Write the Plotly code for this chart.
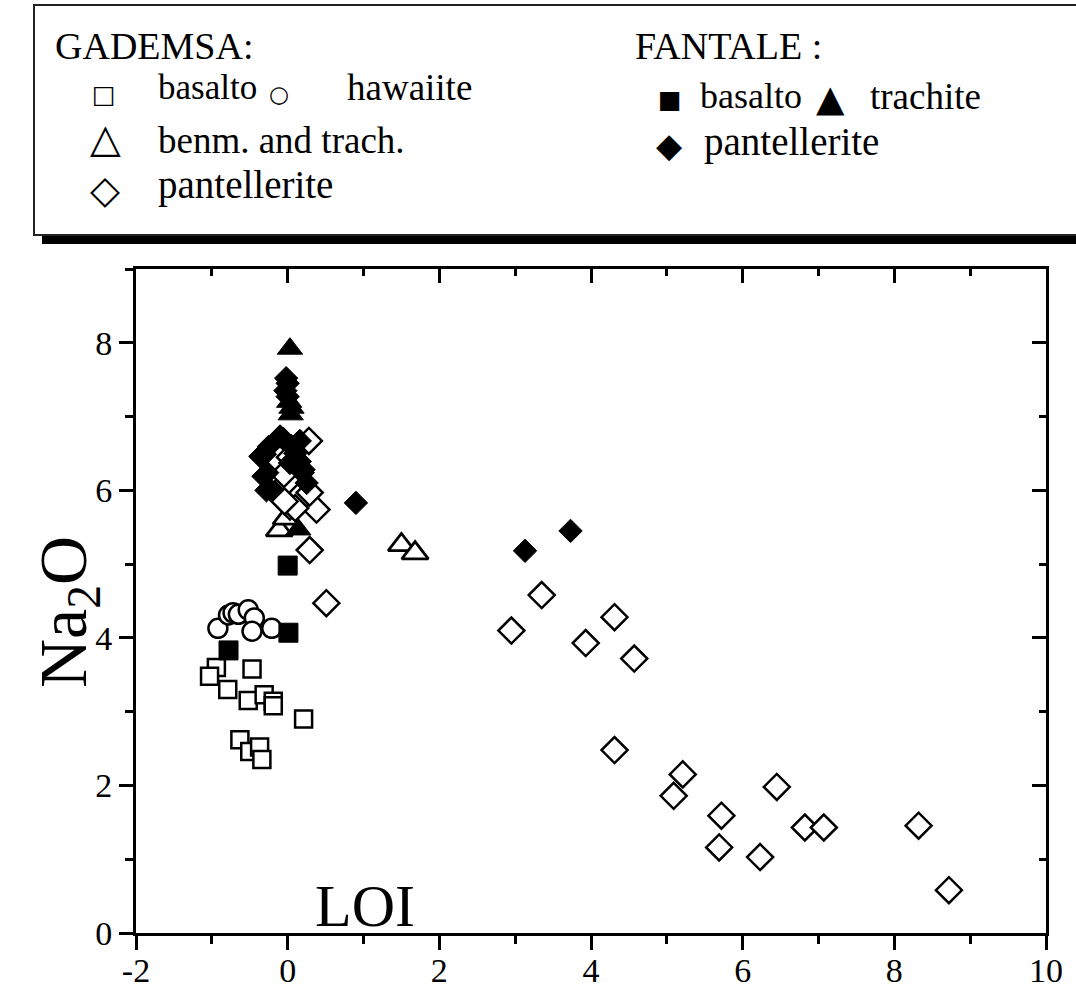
import plotly.graph_objects as go

# ---------------- data (LOI vs Na2O) ----------------
gad_basalto_x = [-0.94, -1.03, -0.47, -0.79, -0.52, -0.31, -0.19, -0.19, 0.21, -0.63, -0.50, -0.37, -0.34]
gad_basalto_y = [3.60, 3.48, 3.58, 3.30, 3.15, 3.23, 3.14, 3.08, 2.90, 2.62, 2.46, 2.52, 2.35]

gad_hawaiite_x = [-0.92, -0.78, -0.72, -0.65, -0.52, -0.44, -0.47, -0.21]
gad_hawaiite_y = [4.13, 4.31, 4.34, 4.32, 4.38, 4.27, 4.09, 4.13]

gad_benm_x = [-0.11, -0.02, 1.50, 1.68]
gad_benm_y = [5.46, 5.62, 5.26, 5.15]

gad_pant_x = [0.28, 0.03, 0.00, -0.05, 0.03, 0.38, 0.29, 0.10, -0.04, 0.29, 0.51,
              2.95, 3.35, 4.31, 3.93, 4.57, 4.31, 5.21, 5.09, 5.72, 5.69, 6.23, 6.45, 6.82, 7.07, 8.32, 8.72]
gad_pant_y = [6.67, 6.45, 6.12, 6.22, 5.78, 5.74, 5.97, 5.76, 5.85, 5.19, 4.47,
              4.10, 4.58, 4.28, 3.93, 3.72, 2.48, 2.15, 1.86, 1.59, 1.16, 1.03, 1.98, 1.43, 1.43, 1.455, 0.58]

fan_basalto_x = [0.00, 0.01, -0.78]
fan_basalto_y = [4.98, 4.07, 3.83]

fan_trach_x = [0.03, 0.02, 0.05, 0.04, 0.14]
fan_trach_y = [7.92, 7.20, 7.12, 7.03, 5.47]

fan_pant_x = [-0.02, 0.00, -0.03, 0.00, -0.10, -0.06, -0.25, -0.36, -0.30, -0.32, -0.27, -0.28, -0.23,
              0.16, 0.16, 0.20, 0.03, 0.21, 0.25, 0.10, 0.05, 0.90, 3.13, 3.73]
fan_pant_y = [7.52, 7.45, 7.35, 7.27, 6.73, 6.70, 6.59, 6.46, 6.49, 6.19, 6.24, 6.00, 6.01,
              6.67, 6.39, 6.24, 6.37, 6.28, 6.10, 6.50, 6.60, 5.83, 5.18, 5.45]

x_tickvals = [-2, 0, 2, 4, 6, 8, 10]
x_ticktext = ["-2", "0", "2", "4", "6", "8", "10"]
y_tickvals = [0, 2, 4, 6, 8]
y_ticktext = ["0", "2", "4", "6", "8"]

# ---------------- layout geometry ----------------
W, H = 1076, 991
L, R, T, B = 136, 30, 269, 58
PW, PH = W - L - R, H - T - B


def px(xp):
    return (xp - L) / PW


def py(yp):
    return (H - B - yp) / PH


SERIF = "Liberation Serif"
SYM = "DejaVu Sans"

fig = go.Figure()


def add(x, y, symbol, size, fill, lw):
    fig.add_trace(go.Scatter(
        x=x, y=y, mode="markers", showlegend=False, cliponaxis=False,
        marker=dict(symbol=symbol, size=size, color=fill,
                    line=dict(color="black", width=lw))))


add(gad_basalto_x, gad_basalto_y, "square", 17, "white", 2.5)
add(gad_hawaiite_x, gad_hawaiite_y, "circle", 19, "white", 2.5)
add(gad_benm_x, gad_benm_y, "triangle-up", 23, "white", 2.8)
add(gad_pant_x, gad_pant_y, "diamond", 20, "white", 2.5)
add(fan_basalto_x, fan_basalto_y, "square", 19, "black", 1)
add(fan_trach_x, fan_trach_y, "triangle-up", 22, "black", 1)
add(fan_pant_x, fan_pant_y, "diamond", 18, "black", 1)

# invisible helpers so the mirrored (inside-tick) axes are drawn
fig.add_trace(go.Scatter(x=[None], y=[None], xaxis="x2", yaxis="y", showlegend=False, hoverinfo="skip"))
fig.add_trace(go.Scatter(x=[None], y=[None], xaxis="x", yaxis="y2", showlegend=False, hoverinfo="skip"))

TF = 34
fig.update_layout(
    width=W, height=H,
    margin=dict(l=L, r=R, t=T, b=B, autoexpand=False),
    paper_bgcolor="white", plot_bgcolor="white",
    font=dict(family=SERIF, size=TF, color="black"),
    showlegend=False,
)
common = dict(showgrid=False, zeroline=False, automargin=False, tickcolor="black", tickwidth=3)
fig.update_layout(
    xaxis=dict(range=[-2, 10], tickmode="array", tickvals=x_tickvals, ticktext=x_ticktext,
               ticks="outside", ticklen=14, ticklabelstandoff=-9,
               minor=dict(dtick=1, tick0=0, ticks="outside", ticklen=8, tickwidth=3, tickcolor="black"),
               showline=True, linewidth=3, linecolor="black", mirror=True, **common),
    yaxis=dict(range=[0, 9], tickmode="array", tickvals=y_tickvals, ticktext=y_ticktext,
               ticks="outside", ticklen=14,
               minor=dict(dtick=1, tick0=0, ticks="outside", ticklen=8, tickwidth=3, tickcolor="black"),
               showline=True, linewidth=3, linecolor="black", mirror=True, **common),
    xaxis2=dict(range=[-2, 10], overlaying="x", side="top", anchor="y",
                tickmode="array", tickvals=x_tickvals, showticklabels=False,
                ticks="inside", ticklen=14,
                minor=dict(dtick=1, tick0=0, ticks="inside", ticklen=7, tickwidth=3, tickcolor="black"),
                showline=False, **common),
    yaxis2=dict(range=[0, 9], overlaying="y", side="right", anchor="x",
                tickmode="array", tickvals=y_tickvals, showticklabels=False,
                ticks="inside", ticklen=14,
                minor=dict(dtick=1, tick0=0, ticks="inside", ticklen=7, tickwidth=3, tickcolor="black"),
                showline=False, **common),
)
fig.update_xaxes(tickfont=dict(family=SERIF, size=TF, color="black"))
fig.update_yaxes(tickfont=dict(family=SERIF, size=TF, color="black"))

# ---------------- legend box (drawn) ----------------
shapes = [
    dict(type="rect", xref="paper", yref="paper", x0=px(42), x1=px(1110), y0=py(244), y1=py(234),
         fillcolor="black", line=dict(width=0), layer="above"),
    dict(type="rect", xref="paper", yref="paper", x0=px(34), x1=px(1100), y0=py(235), y1=py(5),
         fillcolor="rgba(0,0,0,0)", line=dict(color="#222", width=2), layer="above"),
]
fig.update_layout(shapes=shapes)

ann = []


def text(s, x, y, size, family=SERIF, xanchor="left"):
    ann.append(dict(text=s, x=px(x), y=py(y), xref="paper", yref="paper",
                    xanchor=xanchor, yanchor="middle", showarrow=False,
                    font=dict(family=family, size=size, color="black")))


text("GADEMSA:", 53, 46, 38)
text("\u25A1", 104, 94, 25, SYM, "center")
text("basalto", 156, 88, 35)
text("\u25CB", 279, 94, 23, SYM, "center")
text("hawaiite", 345, 88, 37)
text("\u25B3", 105, 138, 40, SYM, "center")
text("benm. and trach.", 156, 140, 37)
text("\u25C7", 105, 189, 39, SYM, "center")
text("pantellerite", 156, 185, 39)

text("FANTALE :", 633, 46, 38)
text("\u25A0", 670, 100, 25, SYM, "center")
text("basalto", 698, 96, 36)
text("\u25B2", 830, 99, 37, SYM, "center")
text("trachite", 868, 96, 37)
text("\u25C6", 669, 145, 34, SYM, "center")
text("pantellerite", 702, 142, 39)

# axis title and inner label
ann.append(dict(text="Na<sub>2</sub>O", x=px(67), y=py(612), xref="paper", yref="paper",
                xanchor="center", yanchor="middle", textangle=-90, showarrow=False,
                font=dict(family=SERIF, size=68, color="black")))
ann.append(dict(text="LOI", x=1.02, y=0.36, xref="x", yref="y",
                xanchor="center", yanchor="middle", showarrow=False,
                font=dict(family=SERIF, size=60, color="black")))

fig.update_layout(annotations=ann)

fig.write_html("out.html")
